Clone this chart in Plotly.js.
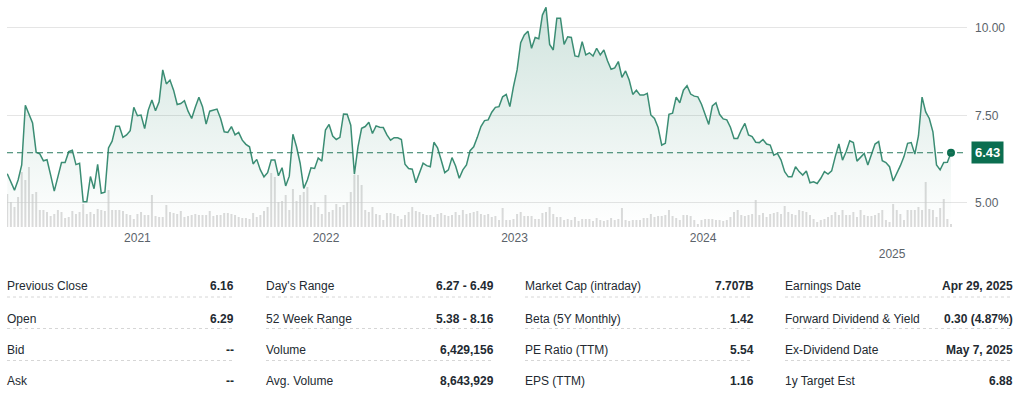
<!DOCTYPE html>
<html>
<head>
<meta charset="utf-8">
<script src="https://cdn.plot.ly/plotly-3.0.1.min.js"></script>
<style>
  html, body { margin: 0; padding: 0; background: #ffffff; }
  #chart { width: 1024px; height: 396px; }
</style>
</head>
<body>
<div id="chart"></div>
<script>
// ---------------- DATA ----------------
const startWeek = '2020-04-24';   // first weekly close shown

// Weekly closing price (USD)
const closePrices = [
  5.83,5.60,5.36,5.65,6.08,7.79,7.56,7.28,6.44,6.40,
  6.20,6.23,5.79,5.33,5.74,6.15,6.15,6.46,6.50,6.09,
  6.13,5.03,5.03,5.75,5.40,6.10,5.27,5.30,6.57,6.76,
  7.19,7.19,6.87,6.94,7.06,7.73,7.49,7.51,7.12,7.65,
  7.94,7.63,7.89,8.80,8.40,8.51,8.22,7.81,7.84,7.92,
  7.62,7.41,7.73,8.02,7.75,7.25,7.62,7.65,7.68,7.41,
  7.03,7.01,7.18,6.94,7.01,6.79,6.67,6.60,6.11,6.24,
  5.94,5.74,5.86,6.22,6.22,5.77,6.00,5.48,5.76,6.96,
  6.60,6.13,5.41,5.65,6.00,5.98,6.28,6.19,7.08,7.24,
  6.91,6.81,6.87,7.54,7.53,7.22,5.82,6.60,7.13,7.18,
  7.30,6.98,7.20,7.16,7.15,6.94,6.79,6.86,6.86,6.81,
  6.10,5.98,5.96,5.57,5.84,6.13,6.06,6.03,6.73,6.57,
  6.22,5.86,5.94,6.29,6.05,5.70,5.94,6.08,6.49,6.60,
  6.87,7.18,7.35,7.37,7.59,7.73,7.75,8.03,8.10,7.75,
  8.32,8.80,9.58,9.80,9.91,9.42,9.73,9.69,10.37,10.59,
  9.53,9.37,10.28,10.28,9.53,9.75,9.73,9.20,9.18,9.61,
  9.23,9.29,9.20,9.42,9.23,9.37,9.06,8.82,8.86,9.04,
  8.59,8.77,8.51,8.10,8.22,8.08,8.08,8.13,7.51,7.41,
  7.15,6.65,6.70,7.53,7.56,8.02,7.86,8.22,8.35,8.11,
  8.05,8.03,7.82,7.54,7.24,7.77,7.86,7.53,7.40,7.37,
  7.16,6.84,6.84,7.08,7.27,6.94,6.89,6.73,6.72,6.81,
  6.68,6.65,6.36,6.41,6.22,5.89,5.74,5.74,6.03,5.89,
  5.79,5.91,5.57,5.60,5.55,5.70,5.89,5.82,5.91,6.32,
  6.68,6.22,6.46,6.77,6.72,6.19,6.30,6.41,6.08,6.36,
  6.68,6.75,6.20,6.15,6.03,5.62,5.82,6.06,6.32,6.70,
  6.72,6.39,6.91,8.02,7.60,7.41,7.03,6.08,5.94,6.15,
  6.16,6.43
];

// Weekly volume (millions of shares)
const weeklyVolume = [
  99,75,60,90,165,141,180,99,105,51,
  51,45,33,39,51,45,27,30,48,39,
  45,69,39,45,39,54,51,48,111,51,
  51,51,48,39,36,24,39,45,36,36,
  96,33,30,30,66,45,42,39,48,30,
  33,36,39,36,36,36,48,33,36,36,
  42,42,39,36,30,27,27,24,42,30,
  36,48,60,162,150,75,78,96,51,114,
  78,96,105,120,66,75,60,39,96,45,
  51,69,60,66,75,105,156,156,126,51,
  45,60,39,36,21,42,42,39,33,24,
  36,45,60,48,45,39,36,36,30,39,
  42,36,33,36,45,36,51,39,42,45,
  48,39,36,39,30,33,21,57,21,21,
  24,39,45,33,33,33,24,24,42,45,
  60,39,30,30,21,24,21,30,18,24,
  24,24,18,27,21,18,21,27,21,24,
  57,21,18,21,21,21,27,27,39,30,
  33,33,36,51,33,27,21,36,36,33,
  21,9,21,24,24,24,21,21,18,21,
  30,45,51,36,33,36,39,81,36,42,
  30,39,42,45,39,63,45,39,36,51,
  48,45,36,24,15,21,24,30,36,45,
  36,51,36,36,45,30,51,36,33,33,
  36,42,51,21,15,69,51,39,21,51,
  51,51,60,51,135,54,51,30,57,84,
  24,9
];

const yearTicks = ['2021-01-01','2022-01-01','2023-01-01','2024-01-01','2025-01-01'];
const yearLabels = ['2021','2022','2023','2024',' <br>2025'];
const priceTicks = [5, 7.5, 10];
const priceTickLabels = ['5.00','7.50','10.00'];

// Summary table
const col1Labels = ['Previous Close','Open','Bid','Ask'];
const col1Values = ['6.16','6.29','--','--'];
const col2Labels = ["Day's Range",'52 Week Range','Volume','Avg. Volume'];
const col2Values = ['6.27 - 6.49','5.38 - 8.16','6,429,156','8,643,929'];
const col3Labels = ['Market Cap (intraday)','Beta (5Y Monthly)','PE Ratio (TTM)','EPS (TTM)'];
const col3Values = ['7.707B','1.42','5.54','1.16'];
const col4Labels = ['Earnings Date','Forward Dividend & Yield','Ex-Dividend Date','1y Target Est'];
const col4Values = ['Apr 29, 2025','0.30 (4.87%)','May 7, 2025','6.88'];

// ---------------- BUILD ----------------
function weeklyDates(start, n) {
  const d0 = new Date(start + 'T00:00:00Z');
  const out = [];
  for (let i = 0; i < n; i++) {
    const d = new Date(d0.getTime() + i * 7 * 86400000);
    out.push(d.toISOString().slice(0, 10));
  }
  return out;
}
const dates = weeklyDates(startWeek, closePrices.length);
const lastDate = dates[dates.length - 1];
const lastPrice = closePrices[closePrices.length - 1];

const FONT = '"Liberation Sans", Arial, sans-serif';
const LINE = '#3b8d74';
const DARK = '#0b6e50';
const TEXT = '#232a31';
const GREY = '#5b636a';

const traces = [
  {
    type: 'bar', x: dates, y: weeklyVolume, yaxis: 'y',
    marker: { color: 'rgba(205,205,205,0.72)', line: { width: 0 } },
    hoverinfo: 'skip', showlegend: false
  },
  {
    type: 'scatter', mode: 'lines', x: dates, y: closePrices, yaxis: 'y2',
    line: { color: LINE, width: 1.5 },
    fill: 'tozeroy',
    fillgradient: {
      type: 'vertical', start: 4.3, stop: 10.6,
      colorscale: [[0, 'rgba(59,141,116,0.0)'], [1, 'rgba(59,141,116,0.24)']]
    },
    hoverinfo: 'skip', showlegend: false
  },
  {
    type: 'scatter', mode: 'markers', x: [lastDate], y: [lastPrice], yaxis: 'y2',
    marker: { color: DARK, size: 8 }, hoverinfo: 'skip', showlegend: false
  }
];

// plot area geometry for paper-referenced table items
const plotL = 7, plotW = 960, plotH = 227;
const px = X => (X - plotL) / plotW;
const py = Y => (plotH - Y) / plotH;

const annotations = [
  {
    xref: 'paper', x: 1, xanchor: 'left', xshift: 4,
    yref: 'y2', y: lastPrice, yanchor: 'middle',
    text: '<b>' + lastPrice.toFixed(2) + '</b>', showarrow: false,
    bgcolor: DARK, borderpad: 3,
    font: { family: FONT, size: 13, color: '#ffffff' }
  }
];
const shapes = [
  {
    type: 'line', xref: 'paper', x0: 0, x1: 1.0, yref: 'y2', y0: lastPrice, y1: lastPrice,
    line: { color: '#2a7a60', width: 1, dash: '6px,4px' }, layer: 'above'
  }
];

const cols = [
  { labels: col1Labels, values: col1Values, lx: 7,   vx: 233 },
  { labels: col2Labels, values: col2Values, lx: 266, vx: 493 },
  { labels: col3Labels, values: col3Values, lx: 525, vx: 753 },
  { labels: col4Labels, values: col4Values, lx: 785, vx: 1012 }
];
const rowY = [286, 318.5, 350, 381.5];
const sepY = [297, 328.5, 360.5];

cols.forEach(c => {
  c.labels.forEach((lab, i) => {
    annotations.push({
      xref: 'paper', yref: 'paper', x: px(c.lx), xshift: -2, y: py(rowY[i]),
      xanchor: 'left', yanchor: 'middle', showarrow: false, text: lab,
      font: { family: FONT, size: 12, color: TEXT }
    });
    annotations.push({
      xref: 'paper', yref: 'paper', x: px(c.vx), xshift: 3, y: py(rowY[i]),
      xanchor: 'right', yanchor: 'middle', showarrow: false, text: '<b>' + c.values[i] + '</b>',
      font: { family: FONT, size: 12, color: TEXT }
    });
  });
  sepY.forEach(sy => {
    shapes.push({
      type: 'line', xref: 'paper', yref: 'paper',
      x0: px(c.lx), x1: px(c.vx), y0: py(sy), y1: py(sy),
      line: { color: '#d6d6d6', width: 1, dash: 'dot' }
    });
  });
});

const layout = {
  width: 1024, height: 396,
  margin: { l: 7, r: 57, t: 0, b: 169, pad: 0 },
  paper_bgcolor: '#ffffff', plot_bgcolor: '#ffffff',
  showlegend: false, hovermode: false, bargap: 0.45,
  font: { family: FONT, color: GREY },
  xaxis: {
    type: 'date', range: ['2020-04-23 12:00', '2025-05-26'],
    showgrid: false, zeroline: false, showline: false, ticks: '',
    ticklabelstandoff: 2,
    tickmode: 'array', tickvals: yearTicks, ticktext: yearLabels,
    tickfont: { family: FONT, size: 12, color: GREY }
  },
  yaxis: {
    range: [0, 681], visible: false, showgrid: false, zeroline: false, fixedrange: true
  },
  yaxis2: {
    overlaying: 'y', side: 'right', range: [4.305, 10.801],
    tickmode: 'array', tickvals: priceTicks, ticktext: priceTickLabels,
    showgrid: true, gridcolor: '#e5e5e5', gridwidth: 1,
    zeroline: false, showline: false, ticks: '', ticklabelstandoff: 7,
    tickfont: { family: FONT, size: 12, color: GREY }
  },
  annotations: annotations,
  shapes: shapes
};

Plotly.newPlot('chart', traces, layout, { displayModeBar: false, staticPlot: true });
</script>
</body>
</html>
